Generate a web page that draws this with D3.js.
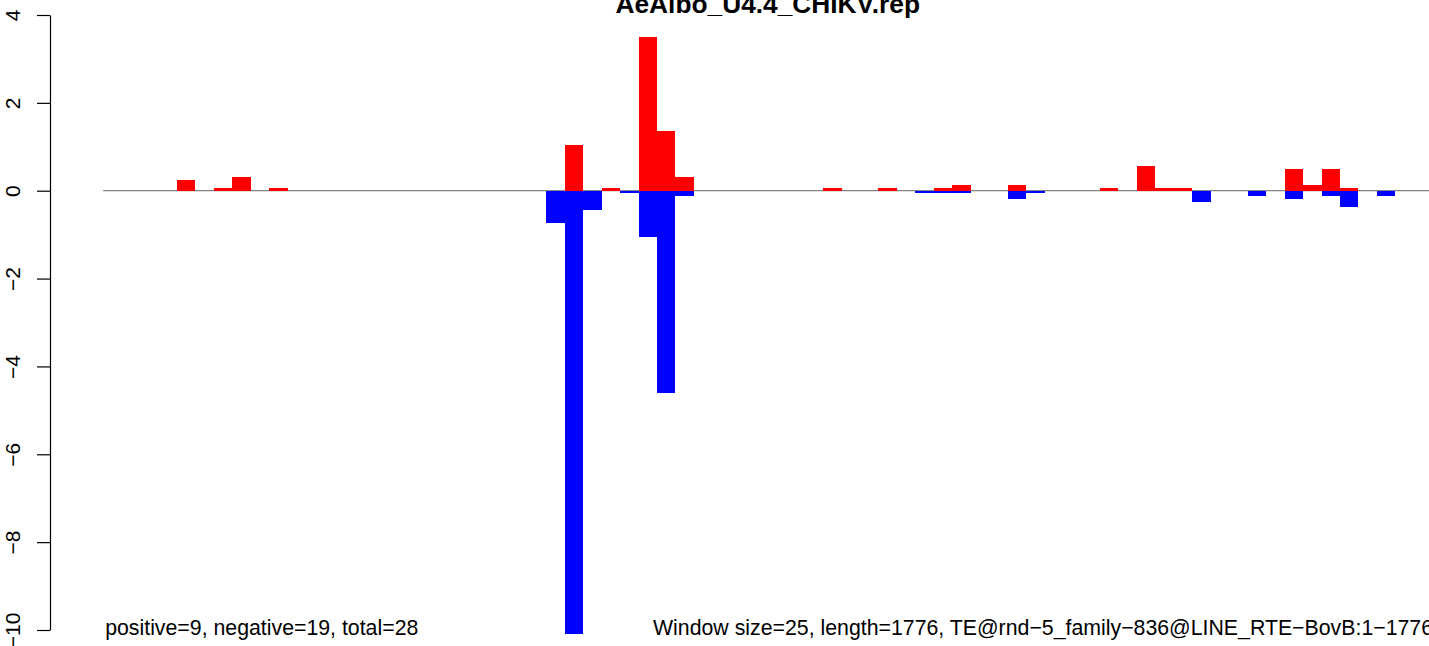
<!DOCTYPE html>
<html>
<head>
<meta charset="utf-8">
<script src="https://cdn.jsdelivr.net/npm/d3@7"></script>
<style>
  html, body { margin: 0; padding: 0; background: #fff; }
  svg { display: block; }
  text { font-family: "Liberation Sans", Arial, Helvetica, sans-serif; }
</style>
</head>
<body>
<svg id="chart" width="1429" height="646"></svg>
<script>
// ---- data ----
const titleText = "AeAlbo_U4.4_CHIKV.rep";
const windowSize = 25;
const seqLength = 1776;
const nWindows = 72;
const posWindows = [4, 6, 7, 9, 25, 27, 29, 30, 31, 39, 42, 45, 46, 49, 54, 56, 57, 58, 64, 65, 66, 67];
const posValues  = [0.24, 0.06, 0.31, 0.06, 1.04, 0.06, 3.50, 1.36, 0.31, 0.06, 0.06, 0.06, 0.13, 0.13, 0.06, 0.56, 0.06, 0.06, 0.49, 0.13, 0.49, 0.06];
const negWindows = [24, 25, 26, 28, 29, 30, 31, 44, 45, 46, 49, 50, 59, 62, 64, 66, 67, 69];
const negValues  = [-0.73, -10.1, -0.44, -0.06, -1.05, -4.6, -0.12, -0.06, -0.06, -0.06, -0.19, -0.06, -0.26, -0.12, -0.19, -0.12, -0.37, -0.12];
const yTicks = [-10, -8, -6, -4, -2, 0, 2, 4];
const leftNote = "positive=9, negative=19, total=28";
const rightNote = "Window size=25, length=1776, TE@rnd\u22125_family\u2212836@LINE_RTE\u2212BovB:1\u22121776";

// ---- layout ----
const svg = d3.select("#chart");
const plotLeft = 103.15, plotRight = 1432.3;
const axisX = 50;

const x = d3.scaleLinear().domain([0, nWindows * windowSize]).range([plotLeft, plotRight]);
const y = d3.scaleLinear().domain([-10, 4]).range([630, 15]);

// baseline
svg.append("line")
  .attr("x1", x(0)).attr("x2", x(nWindows * windowSize))
  .attr("y1", y(0)).attr("y2", y(0))
  .attr("stroke", "#666").attr("stroke-width", 1);

const pos = posWindows.map((w, i) => ({w, v: posValues[i]}));
const neg = negWindows.map((w, i) => ({w, v: negValues[i]}));

svg.append("g").selectAll("rect").data(pos).join("rect")
  .attr("x", d => x(d.w * windowSize))
  .attr("width", d => x((d.w + 1) * windowSize) - x(d.w * windowSize))
  .attr("y", d => y(d.v))
  .attr("height", d => y(0) - y(d.v))
  .attr("fill", "#ff0000")
  .attr("shape-rendering", "crispEdges");

svg.append("g").selectAll("rect").data(neg).join("rect")
  .attr("x", d => x(d.w * windowSize))
  .attr("width", d => x((d.w + 1) * windowSize) - x(d.w * windowSize))
  .attr("y", y(0))
  .attr("height", d => y(d.v) - y(0))
  .attr("fill", "#0000ff")
  .attr("shape-rendering", "crispEdges");

// y axis
const yAxis = d3.axisLeft(y).tickValues(yTicks).tickSize(13).tickSizeOuter(0)
  .tickFormat(d3.format("d"));
const gy = svg.append("g").attr("transform", `translate(${axisX},0)`).call(yAxis);
gy.select(".domain").attr("stroke", "#000").attr("stroke-width", 1.2);
gy.selectAll(".tick line").attr("stroke", "#000").attr("stroke-width", 1.2);
gy.selectAll(".tick text")
  .attr("x", null).attr("dy", null)
  .attr("transform", `translate(${20 - axisX},0) rotate(-90)`)
  .attr("text-anchor", "middle")
  .attr("fill", "#000")
  .style("font-size", "21px")
  .style("font-family", "'Liberation Sans', Arial, sans-serif");

// title
svg.append("text")
  .attr("x", (plotLeft + plotRight) / 2).attr("y", 13)
  .attr("text-anchor", "middle")
  .style("font-size", "26.3px").style("font-weight", "bold")
  .text(titleText);

// notes
svg.append("text")
  .attr("x", x(0) + 2).attr("y", 635)
  .style("font-size", "21.3px")
  .text(leftNote);

svg.append("text")
  .attr("x", 653).attr("y", 635)
  .style("font-size", "21.3px")
  .text(rightNote);
</script>
</body>
</html>
